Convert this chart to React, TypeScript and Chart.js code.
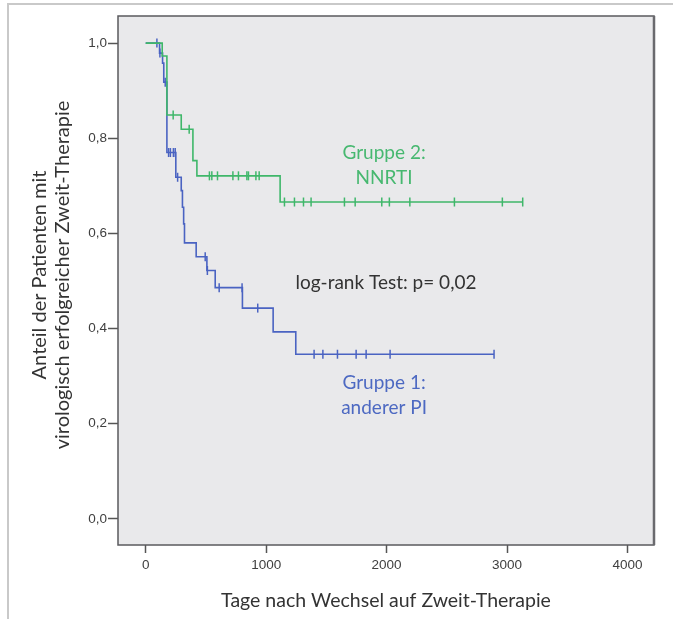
import React, { useEffect, useRef } from 'react';
import { Chart, registerables } from 'chart.js';

Chart.register(...registerables);

// ---- Data ----
const xTickValues = [0, 1000, 2000, 3000, 4000];
const yTickValues = [0, 0.2, 0.4, 0.6, 0.8, 1.0];

// Gruppe 1: anderer PI (blue)
const g1EventDays = [0, 115, 140, 150, 176, 250, 295, 305, 315, 322, 419, 508, 577, 803, 1058, 1246];
const g1Survival = [1.0, 0.979, 0.958, 0.918, 0.77, 0.718, 0.69, 0.655, 0.62, 0.58, 0.551, 0.522, 0.486, 0.443, 0.393, 0.346];
const g1CensorDays = [93, 118, 162, 190, 205, 230, 245, 265, 494, 512, 610, 800, 930, 1398, 1471, 1592, 1747, 1830, 2029, 2892];

// Gruppe 2: NNRTI (green)
const g2EventDays = [0, 137, 176, 295, 392, 425, 1116];
const g2Survival = [1.0, 0.973, 0.849, 0.819, 0.753, 0.721, 0.666];
const g2CensorDays = [228, 361, 529, 549, 596, 724, 770, 840, 853, 915, 942, 1152, 1235, 1310, 1373, 1650, 1739, 1960, 2023, 2193, 2563, 2961, 3130];

const groupLabels = ['Gruppe 1:', 'anderer PI', 'Gruppe 2:', 'NNRTI'];
const testLabel = 'log-rank Test: p= 0,02';
const xTitle = 'Tage nach Wechsel auf Zweit-Therapie';
const yTitleLines = ['Anteil der Patienten mit', 'virologisch erfolgreicher Zweit-Therapie'];

const BLUE = '#4a63c2';
const GREEN = '#3fb76a';
const BLUE_TEXT = '#4d69c2';
const GREEN_TEXT = '#47b870';

function survivalAt(days: number[], surv: number[], t: number) {
  let s = surv[0];
  for (let i = 0; i < days.length; i++) if (days[i] <= t) s = surv[i];
  return s;
}

function stepLine(days: number[], surv: number[], censors: number[]) {
  const pts = days.map((d, i) => ({ x: d, y: surv[i] }));
  const end = Math.max(...censors);
  pts.push({ x: end, y: surv[surv.length - 1] });
  return pts;
}

function censorPoints(days: number[], surv: number[], censors: number[]) {
  return censors.map((c) => ({ x: c, y: survivalAt(days, surv, c) }));
}

const FONT = 'Lato, "Open Sans", sans-serif';

const decorPlugin = {
  id: 'decor',
  beforeDraw(chart: any) {
    const { ctx, chartArea: a } = chart;
    ctx.save();
    ctx.fillStyle = '#e9e9eb';
    ctx.fillRect(a.left, a.top, a.right - a.left, a.bottom - a.top);
    ctx.restore();
  },
  afterDraw(chart: any) {
    const { ctx, chartArea: a, scales } = chart;
    const xs = scales.x;
    const ys = scales.y;
    ctx.save();
    // frame
    ctx.strokeStyle = '#5a5a5e';
    ctx.lineWidth = 1.5;
    ctx.strokeRect(a.left, a.top, a.right - a.left, a.bottom - a.top);
    ctx.lineWidth = 2.5;
    ctx.strokeStyle = '#6a6a6e';
    ctx.beginPath();
    ctx.moveTo(a.right, a.top);
    ctx.lineTo(a.right, a.bottom);
    ctx.stroke();

    ctx.textAlign = 'center';
    ctx.textBaseline = 'middle';
    ctx.font = `19px ${FONT}`;
    // group annotations
    ctx.fillStyle = GREEN_TEXT;
    ctx.fillText(groupLabels[2], xs.getPixelForValue(1979), ys.getPixelForValue(0.769));
    ctx.fillText(groupLabels[3], xs.getPixelForValue(1979), ys.getPixelForValue(0.716));
    ctx.fillStyle = BLUE_TEXT;
    ctx.fillText(groupLabels[0], xs.getPixelForValue(1979), ys.getPixelForValue(0.286));
    ctx.fillText(groupLabels[1], xs.getPixelForValue(1979), ys.getPixelForValue(0.233));
    ctx.fillStyle = '#333333';
    ctx.fillText(testLabel, xs.getPixelForValue(1995), ys.getPixelForValue(0.496));

    // axis titles
    ctx.fillStyle = '#333333';
    ctx.font = `19.5px ${FONT}`;
    ctx.fillText(xTitle, (a.left + a.right) / 2, 601);
    ctx.font = `20px ${FONT}`;
    ctx.translate(0, 275);
    ctx.rotate(-Math.PI / 2);
    ctx.fillText(yTitleLines[0], 0, 40);
    ctx.fillText(yTitleLines[1], 0, 63);
    ctx.restore();
  },
};

export default function App() {
  const ref = useRef<HTMLCanvasElement | null>(null);
  useEffect(() => {
    if (!ref.current) return;
    const chart = new Chart(ref.current, {
      type: 'line',
      data: {
        datasets: [
          {
            data: stepLine(g2EventDays, g2Survival, g2CensorDays),
            borderColor: GREEN,
            borderWidth: 1.6,
            stepped: 'before',
            pointRadius: 0,
            fill: false,
            order: 1,
          },
          {
            data: censorPoints(g2EventDays, g2Survival, g2CensorDays),
            showLine: false,
            pointStyle: 'line',
            rotation: 90,
            pointRadius: 4.5,
            pointBorderWidth: 1.5,
            borderColor: GREEN,
            pointBorderColor: GREEN,
            order: 0,
          },
          {
            data: stepLine(g1EventDays, g1Survival, g1CensorDays),
            borderColor: BLUE,
            borderWidth: 1.6,
            stepped: 'before',
            pointRadius: 0,
            fill: false,
            order: 3,
          },
          {
            data: censorPoints(g1EventDays, g1Survival, g1CensorDays),
            showLine: false,
            pointStyle: 'line',
            rotation: 90,
            pointRadius: 4.5,
            pointBorderWidth: 1.5,
            borderColor: BLUE,
            pointBorderColor: BLUE,
            order: 2,
          },
        ] as any,
      },
      options: {
        animation: false,
        responsive: false,
        events: [],
        layout: { padding: { left: 0, top: 16, right: 19, bottom: 0 } },
        plugins: { legend: { display: false }, tooltip: { enabled: false } },
        scales: {
          x: {
            type: 'linear',
            min: -230,
            max: 4220,
            afterBuildTicks: (s: any) => {
              s.ticks = xTickValues.map((v) => ({ value: v }));
            },
            afterFit: (s: any) => {
              s.height = 74;
            },
            ticks: {
              color: '#404040',
              font: { family: '"Liberation Sans", Arial, sans-serif', size: 13.5 },
              padding: 4,
              maxRotation: 0,
              callback: (v: any) => String(v),
            },
            grid: { drawOnChartArea: false, drawTicks: true, tickLength: 8, tickColor: '#555', tickWidth: 1.5 },
            border: { display: false },
          },
          y: {
            type: 'linear',
            min: -0.055,
            max: 1.057,
            afterBuildTicks: (s: any) => {
              s.ticks = yTickValues.map((v) => ({ value: v }));
            },
            afterFit: (s: any) => {
              s.width = 118;
            },
            ticks: {
              color: '#404040',
              font: { family: '"Liberation Sans", Arial, sans-serif', size: 13.5 },
              padding: 1,
              callback: (v: any) => Number(v).toFixed(1).replace('.', ','),
            },
            grid: { drawOnChartArea: false, drawTicks: true, tickLength: 10, tickColor: '#555', tickWidth: 1.5 },
            border: { display: false },
          },
        },
      },
      plugins: [decorPlugin],
    });
    return () => chart.destroy();
  }, []);

  return (
    <div style={{ position: 'absolute', left: 0, top: 0, width: 673, height: 619, background: '#fff' }}>
      <div
        style={{
          position: 'absolute',
          left: 7,
          top: 3,
          right: 0,
          bottom: 0,
          borderLeft: '2px solid #c9c9c9',
          borderTop: '2px solid #c9c9c9',
        }}
      />
      <canvas ref={ref} width={673} height={619} style={{ position: 'absolute', left: 0, top: 0 }} />
    </div>
  );
}
